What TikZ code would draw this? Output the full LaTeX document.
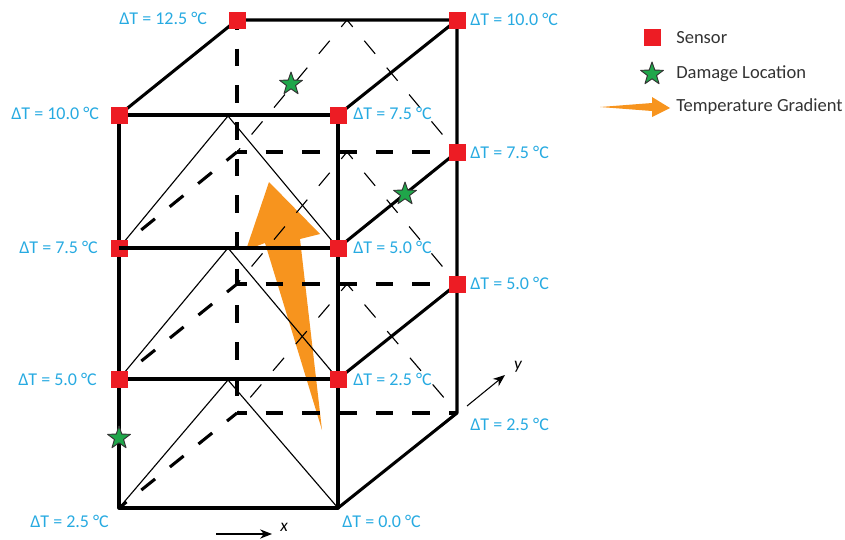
\documentclass[tikz,border=0pt]{standalone}
\usepackage{fontspec}
\setmainfont{Carlito}
\usetikzlibrary{shapes.geometric,arrows.meta}
\definecolor{sensorred}{HTML}{ED1C24}
\definecolor{gradorange}{HTML}{F7941E}
\definecolor{damagegreen}{HTML}{1FA64A}
\definecolor{labelblue}{HTML}{27AAE1}
\tikzset{
  thickline/.style={line width=2.3pt,black},
  thindash/.style={line width=0.85pt,black,dash pattern=on 12.75pt off 13.5pt,dash phase=6pt},
  thickdash/.style={line width=2.3pt,black,dash pattern=on 13.25pt off 14.25pt,dash phase=6pt},
  thinline/.style={line width=0.85pt,black},
  sensor/.style={fill=sensorred,minimum size=12.75pt,inner sep=0pt},
  damage/.style={star,star points=5,star point ratio=2.5,draw=black!80,line width=0.7pt,fill=damagegreen,minimum size=18pt,inner sep=0pt},
  templabel/.style={text=labelblue,font=\fontsize{13.5}{15}\selectfont,inner sep=0pt,anchor=west},
  legendlabel/.style={text=black!80,font=\fontsize{13.9}{15}\selectfont,inner sep=0pt,anchor=west},
  axislabel/.style={font=\fontsize{13}{14}\selectfont\itshape,inner sep=0pt},
  axisarrow/.style={line width=0.8pt,-{Stealth[length=9pt,width=7pt]}}
}
\begin{document}
\begin{tikzpicture}[x=0.75pt,y=-0.75pt,line cap=butt,line join=round]
  \useasboundingbox (0,0) rectangle (845,539);
  % front corners
  \coordinate (FLa) at (119,115);
  \coordinate (FRa) at (338,115);
  \coordinate (FLb) at (119,248);
  \coordinate (FRb) at (338,248);
  \coordinate (FLc) at (119,379);
  \coordinate (FRc) at (338,379);
  \coordinate (FLd) at (119,508);
  \coordinate (FRd) at (338,508);
  % back corners
  \coordinate (BLa) at (237,20);
  \coordinate (BRa) at (457,20);
  \coordinate (BLb) at (237,152);
  \coordinate (BRb) at (457,152);
  \coordinate (BLc) at (237,284);
  \coordinate (BRc) at (457,284);
  \coordinate (BLd) at (237,413);
  \coordinate (BRd) at (457,413);
  % apexes
  \coordinate (TFa) at (228,116);
  \coordinate (TFb) at (228,248);
  \coordinate (TFc) at (228,380);
  \coordinate (TBa) at (347,20);
  \coordinate (TBb) at (347,152);
  \coordinate (TBc) at (347,284);
  % gradient arrow
  \fill[gradorange] (269,182) -- (320,234) -- (300,239) -- (322,430) -- (265,243) -- (246,250) -- cycle;
  % back part
  \draw[thindash] (TBa) -- (BLb);
  \draw[thindash] (TBa) -- (BRb);
  \draw[thindash] (TBb) -- (BLc);
  \draw[thindash] (TBb) -- (BRc);
  \draw[thindash] (TBc) -- (BLd);
  \draw[thindash] (TBc) -- (BRd);
  \draw[thickdash] (BLa) -- (BLd);
  \draw[thickdash] (BLb) -- (BRb);
  \draw[thickdash] (BLc) -- (BRc);
  \draw[thickdash] (BLd) -- (BRd);
  \draw[thickdash] (FLb) -- (BLb);
  \draw[thickdash] (FLc) -- (BLc);
  \draw[thickdash] (FLd) -- (BLd);
  % front part
  \draw[thinline] (FLb) -- (TFa) -- (FRb);
  \draw[thinline] (FLc) -- (TFb) -- (FRc);
  \draw[thinline] (FLd) -- (TFc) -- (FRd);
  \draw[thickline] (FLa) -- (FLd) -- (FRd) -- (FRa) -- cycle;
  \draw[thickline] (FLb) -- (FRb);
  \draw[thickline] (FLc) -- (FRc);
  \draw[thickline] (FLa) -- (BLa) -- (BRa) -- (BRd) -- (FRd);
  \draw[thickline] (FRa) -- (BRa);
  \draw[thickline] (FRb) -- (BRb);
  \draw[thickline] (FRc) -- (BRc);
  % sensors
  \node[sensor] (s1) at (FLa) {};
  \node[sensor] (s2) at (FRa) {};
  \node[sensor] (s3) at (FLb) {};
  \node[sensor] (s4) at (FRb) {};
  \node[sensor] (s5) at (FLc) {};
  \node[sensor] (s6) at (FRc) {};
  \node[sensor] (s7) at (BLa) {};
  \node[sensor] (s8) at (BRa) {};
  \node[sensor] (s9) at (BRb) {};
  \node[sensor] (s10) at (BRc) {};
  \draw[thickline] (FLb) -- (s3.east);
  % damage
  \node[damage] (d1) at (291,84) {};
  \node[damage] (d2) at (405,194) {};
  \node[damage] (d3) at (119,438) {};
  % temperatures
  \node[templabel] (t1) at (119,18) {ΔT = 12.5 °C};
  \node[templabel] (t2) at (470,19) {ΔT = 10.0 °C};
  \node[templabel] (t3) at (11,113) {ΔT = 10.0 °C};
  \node[templabel] (t4) at (353,113) {ΔT = 7.5 °C};
  \node[templabel] (t5) at (470,152) {ΔT = 7.5 °C};
  \node[templabel] (t6) at (19,247) {ΔT = 7.5 °C};
  \node[templabel] (t7) at (353,247) {ΔT = 5.0 °C};
  \node[templabel] (t8) at (470,283) {ΔT = 5.0 °C};
  \node[templabel] (t9) at (18,379) {ΔT = 5.0 °C};
  \node[templabel] (t10) at (353,379) {ΔT = 2.5 °C};
  \node[templabel] (t11) at (470,424) {ΔT = 2.5 °C};
  \node[templabel] (t12) at (30,521) {ΔT = 2.5 °C};
  \node[templabel] (t13) at (342,521) {ΔT = 0.0 °C};
  % axes
  \coordinate (xa) at (216,534);
  \coordinate (xb) at (272,534);
  \coordinate (ya) at (467,406);
  \coordinate (yb) at (505,375);
  \draw[axisarrow] (xa) -- (xb);
  \draw[axisarrow] (ya) -- (yb);
  \node[axislabel] (xl) at (284,527) {x};
  \node[axislabel] (yl) at (518,367) {y};
  % legend
  \node[sensor] (ls) at (652,37) {};
  \node[damage] (ld) at (652,74) {};
  \fill[gradorange] (600,107) -- (652,103) -- (652,97) -- (670,108) -- (652,117) -- (652,111) -- cycle;
  \node[legendlabel] (l1) at (676,38) {Sensor};
  \node[legendlabel] (l2) at (676,74) {Damage Location};
  \node[legendlabel] (l3) at (676,107) {Temperature Gradient};
\end{tikzpicture}
\end{document}
